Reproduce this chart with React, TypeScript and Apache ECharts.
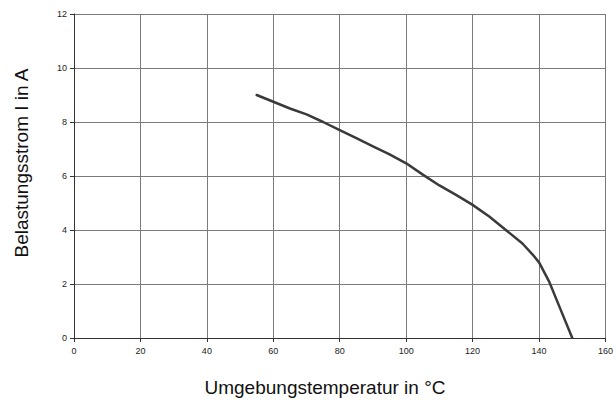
import React, { useEffect, useRef } from "react";
import * as echarts from "echarts";

const temperatures = [55, 60, 65, 70, 75, 80, 85, 90, 95, 100, 105, 110, 115, 120, 125, 130, 135, 138, 140, 143, 146, 150];
const currents = [9.0, 8.75, 8.5, 8.28, 8.0, 7.7, 7.4, 7.1, 6.8, 6.47, 6.05, 5.65, 5.3, 4.93, 4.5, 4.0, 3.5, 3.1, 2.8, 2.1, 1.2, 0.0];
const xTitle = "Umgebungstemperatur in °C";
const yTitle = "Belastungsstrom I in A";

export default function App() {
  const ref = useRef<HTMLDivElement>(null);
  useEffect(() => {
    if (!ref.current) return;
    const chart = echarts.init(ref.current, undefined, { renderer: "svg" });
    const font = "Liberation Sans, Arial, sans-serif";
    chart.setOption({
      animation: false,
      backgroundColor: "#ffffff",
      grid: { left: 74, right: 8, top: 14, bottom: 62, containLabel: false },
      graphic: [
        {
          type: "text",
          x: 325,
          y: 387,
          style: {
            text: xTitle,
            fontFamily: font,
            fontSize: 19,
            fill: "#111",
            align: "center",
            verticalAlign: "middle",
          },
        },
        {
          type: "text",
          x: 21,
          y: 163,
          rotation: Math.PI / 2,
          style: {
            text: yTitle,
            fontFamily: font,
            fontSize: 19,
            fill: "#111",
            align: "center",
            verticalAlign: "middle",
          },
        },
      ],
      xAxis: {
        type: "value",
        min: 0,
        max: 160,
        interval: 20,
        axisLine: { show: true, lineStyle: { color: "#333", width: 1 } },
        axisTick: { show: true, length: 4, inside: false, lineStyle: { color: "#333" } },
        axisLabel: { fontFamily: font, fontSize: 9, color: "#222", margin: 8 },
        splitLine: { show: true, lineStyle: { color: "#7a7a7a", width: 1 } },
      },
      yAxis: {
        type: "value",
        min: 0,
        max: 12,
        interval: 2,
        axisLine: { show: true, lineStyle: { color: "#333", width: 1 } },
        axisTick: { show: true, length: 4, lineStyle: { color: "#333" } },
        axisLabel: { fontFamily: font, fontSize: 9, color: "#222", margin: 7 },
        splitLine: { show: true, lineStyle: { color: "#7a7a7a", width: 1 } },
      },
      series: [
        {
          type: "line",
          data: temperatures.map((t, i) => [t, currents[i]]),
          showSymbol: false,
          smooth: false,
          lineStyle: { color: "#3a3a3a", width: 2.5, join: "round", cap: "round" },
        },
      ],
    });
    return () => chart.dispose();
  }, []);
  return (
    <div
      ref={ref}
      style={{ position: "fixed", left: 0, top: 0, width: 616, height: 400 }}
    />
  );
}
